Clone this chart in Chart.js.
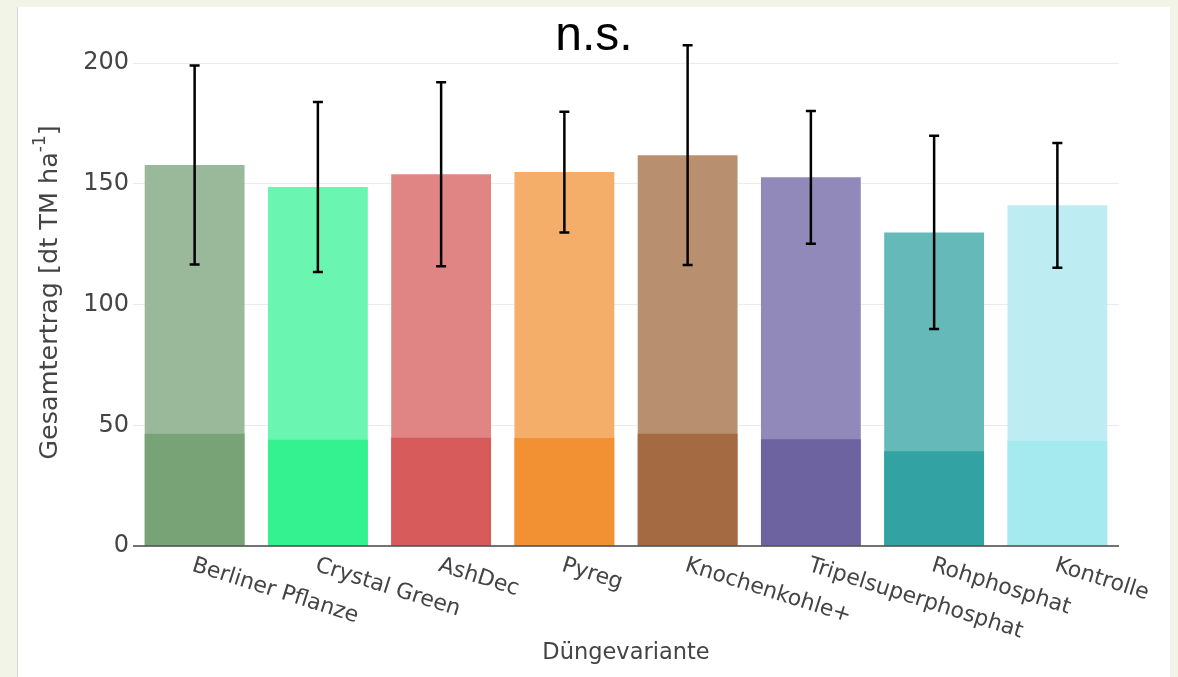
<!DOCTYPE html>
<html>
<head>
<meta charset="utf-8">
<script src="https://cdn.jsdelivr.net/npm/chart.js@4.4.1/dist/chart.umd.min.js"></script>
<style>
  html, body { margin: 0; padding: 0; background: #f1f4e6; }
  #panel {
    position: absolute; left: 17px; top: 7px; width: 1153px; height: 670px;
    background: #fff; border-left: 1px solid #d6d6d6; box-sizing: border-box;
  }
  canvas { display: block; }
</style>
</head>
<body>
<div id="panel"><canvas id="yield-chart" width="1152" height="670"></canvas></div>
<script>
// Düngevarianten und Erträge (dt TM/ha)
const variants = ['Berliner Pflanze', 'Crystal Green', 'AshDec', 'Pyreg', 'Knochenkohle+', 'Tripelsuperphosphat', 'Rohphosphat', 'Kontrolle'];
const totalYield = [157.8, 148.7, 154.0, 154.9, 161.9, 152.7, 129.9, 141.1];
const totalSd = [41.2, 35.2, 38.1, 25.0, 45.5, 27.5, 40.0, 25.8];
const partYield = [46.5, 44.0, 44.8, 44.7, 46.5, 44.2, 39.2, 43.6];
const yTicks = [0, 50, 100, 150, 200];

const lightColors = ['#9ab99a', '#6af6b0', '#e08583', '#f5ae6a', '#b9906f', '#9189b9', '#66b9b9', '#bdedf3'];
const darkColors = ['#77a377', '#35f291', '#d75b5b', '#f29134', '#a46b43', '#6c63a0', '#32a2a2', '#a5eaef'];

const tickFont = '"DejaVu Sans", Verdana, sans-serif';

// error bars, zero line and the rotated/custom texts
const overlayPlugin = {
    id: 'overlay',
    afterDatasetsDraw(chart) {
        const { ctx, chartArea, scales: { x, y } } = chart;
        ctx.save();

        // zero line on top of the bars
        ctx.strokeStyle = '#444';
        ctx.lineWidth = 1.5;
        ctx.beginPath();
        ctx.moveTo(chartArea.left, y.getPixelForValue(0));
        ctx.lineTo(chartArea.right, y.getPixelForValue(0));
        ctx.stroke();

        // ± sd whiskers
        ctx.strokeStyle = '#000';
        ctx.lineWidth = 2.5;
        totalYield.forEach((v, i) => {
            const cx = x.getPixelForValue(i);
            const top = y.getPixelForValue(v + totalSd[i]);
            const bot = y.getPixelForValue(v - totalSd[i]);
            ctx.beginPath();
            ctx.moveTo(cx, top); ctx.lineTo(cx, bot);
            ctx.moveTo(cx - 5, top); ctx.lineTo(cx + 5, top);
            ctx.moveTo(cx - 5, bot); ctx.lineTo(cx + 5, bot);
            ctx.stroke();
        });

        // category labels, tilted clockwise
        ctx.fillStyle = '#444';
        ctx.font = '22px ' + tickFont;
        ctx.textAlign = 'left';
        ctx.textBaseline = 'middle';
        variants.forEach((name, i) => {
            ctx.save();
            ctx.translate(x.getPixelForValue(i) - 2, chartArea.bottom + 19);
            ctx.rotate(17.5 * Math.PI / 180);
            ctx.fillText(name, 0, 0);
            ctx.restore();
        });

        // x axis title
        ctx.font = '22.5px ' + tickFont;
        ctx.textAlign = 'center';
        ctx.fillText('Düngevariante', (chartArea.left + chartArea.right) / 2, 646);

        // y axis title with superscript
        ctx.save();
        ctx.translate(32, (chartArea.top + chartArea.bottom) / 2);
        ctx.rotate(-Math.PI / 2);
        const main = 'Gesamtertrag [dt TM ha';
        const sup = '-1';
        const close = ']';
        ctx.font = '25.5px ' + tickFont;
        const wMain = ctx.measureText(main).width;
        const wClose = ctx.measureText(close).width;
        ctx.font = '17px ' + tickFont;
        const wSup = ctx.measureText(sup).width;
        let sx = -(wMain + wSup + wClose) / 2;
        ctx.textAlign = 'left';
        ctx.font = '25.5px ' + tickFont;
        ctx.fillText(main, sx, 0);
        sx += wMain;
        ctx.font = '17px ' + tickFont;
        ctx.fillText(sup, sx, -9);
        sx += wSup;
        ctx.font = '25.5px ' + tickFont;
        ctx.fillText(close, sx, 0);
        ctx.restore();

        // significance note
        ctx.fillStyle = '#000';
        ctx.font = '48px "Liberation Sans", Arial, sans-serif';
        ctx.textAlign = 'center';
        ctx.textBaseline = 'alphabetic';
        ctx.fillText('n.s.', chart.width / 2, 43);

        ctx.restore();
    }
};

new Chart(document.getElementById('yield-chart'), {
    type: 'bar',
    data: {
        labels: variants,
        datasets: [
            { label: 'Teilertrag', data: partYield, backgroundColor: darkColors, order: 1 },
            { label: 'Gesamtertrag', data: totalYield, backgroundColor: lightColors, order: 2 }
        ]
    },
    options: {
        responsive: false,
        animation: false,
        devicePixelRatio: 1,
        categoryPercentage: 0.81,
        barPercentage: 1.0,
        layout: { padding: { top: 32, right: 51, left: 0, bottom: 0 } },
        plugins: { legend: { display: false }, tooltip: { enabled: false } },
        scales: {
            x: {
                stacked: true,
                grid: { display: false },
                border: { display: false },
                ticks: { display: false },
                afterFit: (scale) => { scale.height = 131; }
            },
            y: {
                stacked: false,
                min: 0,
                max: 210,
                afterBuildTicks: (scale) => { scale.ticks = yTicks.map(v => ({ value: v })); },
                grid: {
                    drawTicks: false,
                    color: (c) => c.tick && c.tick.value === 0 ? 'rgba(0,0,0,0)' : '#ebebeb'
                },
                border: { display: false },
                ticks: { padding: 4, color: '#444', font: { family: tickFont, size: 24 } },
                afterFit: (scale) => { scale.width = 115; }
            }
        }
    },
    plugins: [overlayPlugin]
});
</script>
</body>
</html>
